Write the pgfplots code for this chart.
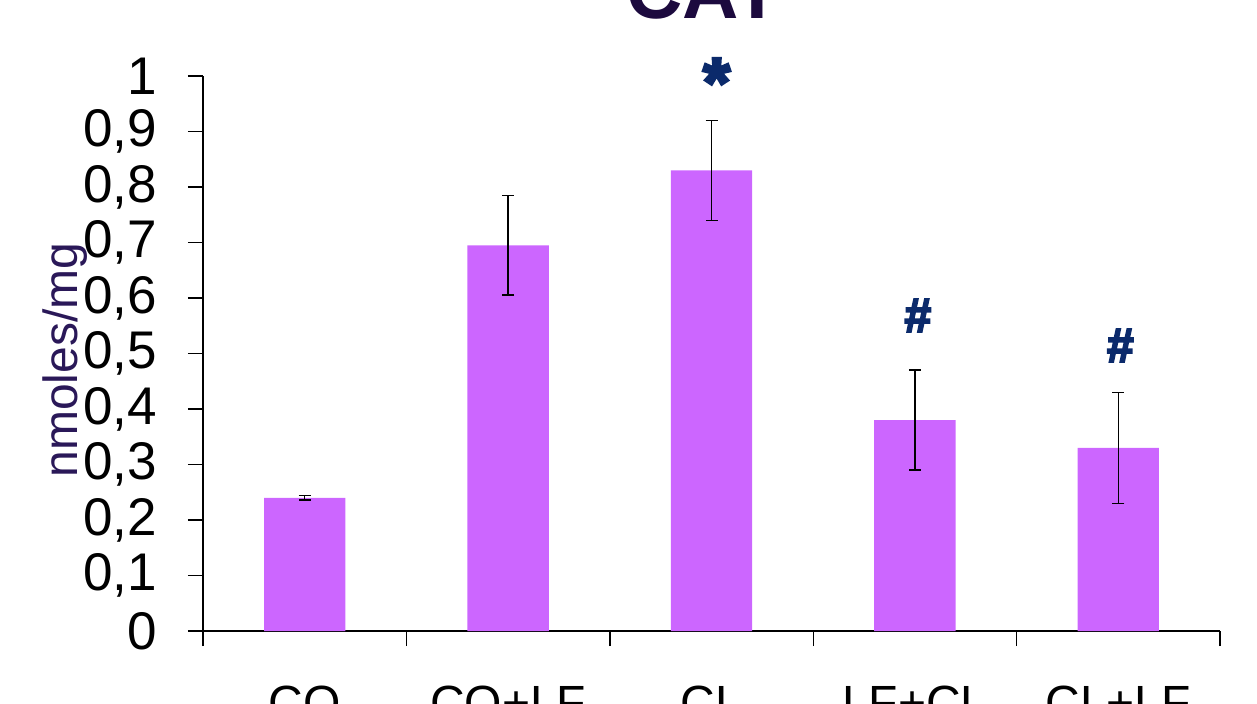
\documentclass[border=0pt]{standalone}
\usepackage{pgfplots}
\pgfplotsset{compat=1.18}
\usepackage{fontspec}
\setmainfont{Liberation Sans}
\newfontfamily\markfont[RawFeature={embolden=4}]{Liberation Sans Bold}
\definecolor{barpurple}{HTML}{CC66FF}
\definecolor{titlecol}{HTML}{1C0A3E}
\definecolor{labcol}{HTML}{2A1858}
\definecolor{markcol}{HTML}{0B2A6B}
\newcommand\starmark{\markfont\fontsize{70bp}{70bp}\selectfont *}
\newcommand\hashmark{\markfont\fontsize{48bp}{48bp}\selectfont \#}
\begin{document}
\begin{tikzpicture}
\begin{axis}[
  at={(203bp,73bp)}, anchor=south west,
  scale only axis, width=1017bp, height=555bp,
  xmin=-0.5, xmax=4.5, ymin=0, ymax=1,
  axis x line*=bottom, axis y line*=left,
  axis line style={-, line width=1.4bp, black},
  tick align=outside,
  major tick length=15bp, minor tick length=15bp,
  xtick={0,1,2,3,4},
  xticklabels={CO, CO+LF, CL, LF+CL, CL+LF},
  minor xtick={-0.5,0.5,1.5,2.5,3.5,4.5},
  major x tick style={draw=none},
  minor x tick style={line width=1.4bp, black},
  ytick={0,0.1,0.2,0.3,0.4,0.5,0.6,0.7,0.8,0.9,1},
  yticklabels={0,{0,1},{0,2},{0,3},{0,4},{0,5},{0,6},{0,7},{0,8},{0,9},1},
  major y tick style={line width=1.4bp, black},
  tick label style={inner sep=0pt, text=black},
  yticklabel style={anchor=east, xshift=-31bp, font=\fontsize{53bp}{60bp}\selectfont},
  xticklabel style={anchor=base, yshift=-73bp, font=\fontsize{48bp}{56bp}\selectfont},
  title={CAT},
  title style={at={(axis description cs:0.4921,1.0937)}, anchor=base, inner sep=0pt,
    font=\bfseries\fontsize{78bp}{84bp}\selectfont, text=titlecol},
  ylabel={nmoles/mg},
  ylabel style={at={(axis description cs:-0.1357,0.4883)}, anchor=center, inner sep=0pt,
    font=\fontsize{48bp}{54bp}\selectfont, text=labcol},
  clip=false,
]
\addplot[ybar, bar width=0.4, fill=barpurple, draw=none,
  error bars/.cd, y dir=both, y explicit,
  error bar style={line width=1.5bp, draw=black},
  error mark options={draw=black, line width=1.5bp, mark size=6bp, rotate=90}]
  coordinates {
    (0,0.240) +- (0,0.004)
    (1,0.695) +- (0,0.090)
    (2,0.830) +- (0,0.090)
    (3,0.380) +- (0,0.090)
    (4,0.330) +- (0,0.100)
  };
\addplot[draw=none, mark=none, nodes near coords, point meta=explicit symbolic,
  nodes near coords style={anchor=base, inner sep=0pt, text=markcol}]
  coordinates {
    (2.025,0.945) [\starmark]
    (3.015,0.539) [\hashmark]
    (4.01,0.485) [\hashmark]
  };
\end{axis}
\pgfresetboundingbox
\useasboundingbox (0,0) rectangle (1257bp,704bp);
\end{tikzpicture}
\end{document}
